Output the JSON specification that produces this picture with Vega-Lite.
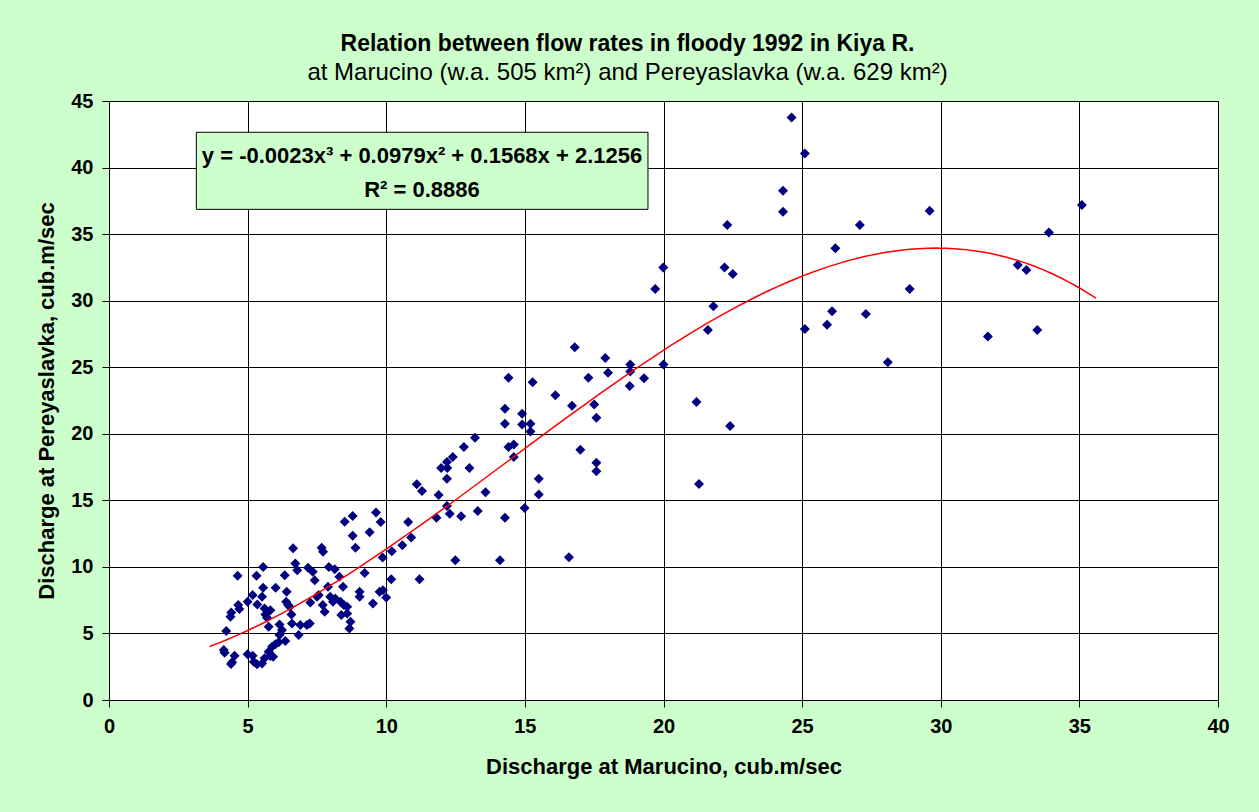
{
  "$schema": "https://vega.github.io/schema/vega-lite/v6.json",
  "autosize": {"type": "none"},
  "padding": {"left": 109, "top": 101, "right": 41, "bottom": 112},
  "width": 1109,
  "height": 599,
  "background": "#CCFFCC",
  "title": {
    "text": "Relation between flow rates in floody 1992 in Kiya R.",
    "subtitle": "at Marucino (w.a. 505 km²) and Pereyaslavka (w.a. 629 km²)",
    "anchor": "middle",
    "dx": -36,
    "offset": 6,
    "font": "Liberation Sans",
    "fontSize": 23,
    "fontWeight": "bold",
    "color": "#000000",
    "subtitleFont": "Liberation Sans",
    "subtitleFontSize": 24,
    "subtitleColor": "#000000",
    "subtitlePadding": 5
  },
  "datasets": {
    "points": [
      {"x": 24.62, "y": 43.76}, {"x": 25.1, "y": 41.06}, {"x": 24.31, "y": 38.26}, {"x": 24.31, "y": 36.68},
      {"x": 22.3, "y": 35.68}, {"x": 27.08, "y": 35.68}, {"x": 29.6, "y": 36.76}, {"x": 35.09, "y": 37.18},
      {"x": 33.9, "y": 35.13}, {"x": 26.2, "y": 33.93}, {"x": 19.99, "y": 32.5}, {"x": 22.2, "y": 32.5},
      {"x": 22.5, "y": 32.0}, {"x": 32.78, "y": 32.68}, {"x": 33.09, "y": 32.3}, {"x": 19.7, "y": 30.88},
      {"x": 28.88, "y": 30.88}, {"x": 21.8, "y": 29.58}, {"x": 26.08, "y": 29.2}, {"x": 27.3, "y": 29.0},
      {"x": 25.9, "y": 28.2}, {"x": 25.1, "y": 27.87}, {"x": 21.6, "y": 27.8}, {"x": 33.48, "y": 27.8},
      {"x": 31.7, "y": 27.3}, {"x": 28.09, "y": 25.38}, {"x": 20.0, "y": 25.2}, {"x": 21.19, "y": 22.38},
      {"x": 22.4, "y": 20.58}, {"x": 21.28, "y": 16.23},
      {"x": 17.9, "y": 25.7}, {"x": 18.0, "y": 24.58}, {"x": 18.8, "y": 25.2}, {"x": 18.8, "y": 24.68},
      {"x": 18.78, "y": 23.58}, {"x": 19.3, "y": 24.18}, {"x": 16.8, "y": 26.5}, {"x": 17.29, "y": 24.2},
      {"x": 16.1, "y": 22.9}, {"x": 16.7, "y": 22.1}, {"x": 17.5, "y": 22.2}, {"x": 17.58, "y": 21.2},
      {"x": 17.0, "y": 18.8}, {"x": 17.58, "y": 17.83}, {"x": 17.58, "y": 17.18}, {"x": 15.5, "y": 16.63},
      {"x": 15.5, "y": 15.43}, {"x": 16.59, "y": 10.73},
      {"x": 14.41, "y": 24.2}, {"x": 15.28, "y": 23.88}, {"x": 14.28, "y": 21.88}, {"x": 14.28, "y": 20.75},
      {"x": 14.9, "y": 21.5}, {"x": 14.9, "y": 20.7}, {"x": 15.2, "y": 20.75}, {"x": 15.2, "y": 20.18},
      {"x": 13.2, "y": 19.7}, {"x": 12.8, "y": 19.0}, {"x": 12.4, "y": 18.25}, {"x": 12.19, "y": 17.88},
      {"x": 11.98, "y": 17.43}, {"x": 12.2, "y": 17.43}, {"x": 13.0, "y": 17.43}, {"x": 12.19, "y": 16.63},
      {"x": 14.41, "y": 19.0}, {"x": 14.6, "y": 19.2}, {"x": 14.6, "y": 18.25}, {"x": 11.1, "y": 16.2},
      {"x": 11.29, "y": 15.7}, {"x": 11.89, "y": 15.4}, {"x": 13.58, "y": 15.6}, {"x": 12.19, "y": 14.58},
      {"x": 12.29, "y": 14.0}, {"x": 11.81, "y": 13.7}, {"x": 12.7, "y": 13.8}, {"x": 13.3, "y": 14.2},
      {"x": 14.28, "y": 13.7}, {"x": 14.99, "y": 14.43}, {"x": 10.79, "y": 13.38}, {"x": 10.9, "y": 12.2},
      {"x": 10.58, "y": 11.63}, {"x": 10.2, "y": 11.18}, {"x": 9.87, "y": 10.7}, {"x": 12.49, "y": 10.5},
      {"x": 14.1, "y": 10.5}, {"x": 9.22, "y": 9.55}, {"x": 10.18, "y": 9.08}, {"x": 11.2, "y": 9.08},
      {"x": 8.79, "y": 13.83}, {"x": 9.63, "y": 14.08}, {"x": 9.8, "y": 13.38}, {"x": 9.4, "y": 12.6},
      {"x": 8.79, "y": 12.33}, {"x": 8.89, "y": 11.43}, {"x": 8.5, "y": 13.4},
      {"x": 4.64, "y": 9.33}, {"x": 5.32, "y": 9.33}, {"x": 5.56, "y": 10.0}, {"x": 6.34, "y": 9.38},
      {"x": 6.64, "y": 11.4}, {"x": 6.72, "y": 10.25}, {"x": 6.79, "y": 9.75}, {"x": 7.18, "y": 9.93},
      {"x": 7.35, "y": 9.63}, {"x": 7.67, "y": 11.43}, {"x": 7.72, "y": 11.13}, {"x": 7.93, "y": 10.0},
      {"x": 8.14, "y": 9.83}, {"x": 8.31, "y": 9.25}, {"x": 8.44, "y": 8.5}, {"x": 7.42, "y": 9.0},
      {"x": 7.9, "y": 8.5}, {"x": 6.01, "y": 8.43}, {"x": 5.56, "y": 8.43}, {"x": 6.41, "y": 8.13},
      {"x": 5.18, "y": 7.88}, {"x": 5.52, "y": 7.75}, {"x": 5.35, "y": 7.18}, {"x": 5.0, "y": 7.38},
      {"x": 4.66, "y": 7.13}, {"x": 4.7, "y": 6.83}, {"x": 4.41, "y": 6.58}, {"x": 4.38, "y": 6.25},
      {"x": 4.23, "y": 5.18}, {"x": 4.14, "y": 3.75}, {"x": 4.17, "y": 3.55}, {"x": 4.53, "y": 3.33},
      {"x": 4.44, "y": 2.83}, {"x": 4.4, "y": 2.7}, {"x": 5.0, "y": 3.43}, {"x": 5.18, "y": 3.33},
      {"x": 5.22, "y": 2.88}, {"x": 5.34, "y": 2.68}, {"x": 5.52, "y": 2.75}, {"x": 5.61, "y": 3.13},
      {"x": 5.76, "y": 3.63}, {"x": 5.82, "y": 3.3}, {"x": 5.92, "y": 3.25}, {"x": 5.88, "y": 4.0},
      {"x": 6.0, "y": 4.18}, {"x": 6.12, "y": 4.33}, {"x": 6.36, "y": 4.43}, {"x": 6.15, "y": 4.88},
      {"x": 6.24, "y": 5.25}, {"x": 6.15, "y": 5.68}, {"x": 5.76, "y": 5.5}, {"x": 5.7, "y": 6.18},
      {"x": 5.61, "y": 6.88}, {"x": 5.64, "y": 6.43}, {"x": 5.82, "y": 6.75}, {"x": 6.46, "y": 7.13},
      {"x": 6.39, "y": 7.38}, {"x": 6.52, "y": 7.0}, {"x": 6.6, "y": 5.75}, {"x": 6.84, "y": 4.88},
      {"x": 6.9, "y": 5.63}, {"x": 7.14, "y": 5.63}, {"x": 7.24, "y": 5.75}, {"x": 6.58, "y": 6.43},
      {"x": 7.26, "y": 7.33}, {"x": 7.5, "y": 7.75}, {"x": 7.71, "y": 7.13}, {"x": 7.78, "y": 6.63},
      {"x": 7.98, "y": 7.75}, {"x": 8.16, "y": 7.63}, {"x": 8.35, "y": 7.38}, {"x": 8.47, "y": 7.13},
      {"x": 8.59, "y": 7.0}, {"x": 8.38, "y": 6.38}, {"x": 8.59, "y": 6.5}, {"x": 8.71, "y": 5.88},
      {"x": 8.67, "y": 5.38}, {"x": 9.04, "y": 8.13}, {"x": 9.04, "y": 7.75}, {"x": 9.76, "y": 8.13},
      {"x": 9.88, "y": 8.25}, {"x": 10.0, "y": 7.7}, {"x": 9.52, "y": 7.25}, {"x": 7.56, "y": 7.88},
      {"x": 8.08, "y": 7.38}
    ],
    "box": [{"x1": 3.15, "x2": 19.44, "y1": 36.86, "y2": 42.65}],
    "eq": [
      {"x": 11.29, "y": 40.9, "label": "y = -0.0023x³ + 0.0979x² + 0.1568x + 2.1256"},
      {"x": 11.29, "y": 38.35, "label": "R² = 0.8886"}
    ]
  },
  "layer": [
    {
      "data": {"name": "box"},
      "mark": {"type": "rect", "fill": "#CCFFCC", "stroke": "#000000", "strokeWidth": 1},
      "encoding": {
        "x": {"field": "x1", "type": "quantitative", "scale": {"domain": [0, 40], "nice": false, "zero": true},
              "axis": {"title": "Discharge at Marucino, cub.m/sec", "values": [0, 5, 10, 15, 20, 25, 30, 35, 40]}},
        "x2": {"field": "x2"},
        "y": {"field": "y1", "type": "quantitative", "scale": {"domain": [0, 45], "nice": false, "zero": true},
              "axis": {"title": "Discharge at Pereyaslavka, cub.m/sec", "values": [0, 5, 10, 15, 20, 25, 30, 35, 40, 45]}},
        "y2": {"field": "y2"}
      }
    },
    {
      "data": {"name": "eq"},
      "mark": {"type": "text", "font": "Liberation Sans", "fontWeight": "bold", "fontSize": 22, "align": "center", "baseline": "middle", "color": "#000000"},
      "encoding": {
        "x": {"field": "x", "type": "quantitative"},
        "y": {"field": "y", "type": "quantitative"},
        "text": {"field": "label"}
      }
    },
    {
      "data": {"name": "points"},
      "mark": {"type": "point", "shape": "diamond", "filled": true, "size": 100, "color": "#000080", "opacity": 1},
      "encoding": {
        "x": {"field": "x", "type": "quantitative"},
        "y": {"field": "y", "type": "quantitative"}
      }
    },
    {
      "data": {"name": "points"},
      "transform": [{"regression": "y", "on": "x", "method": "poly", "order": 3, "extent": [3.63, 35.6]}],
      "mark": {"type": "line", "color": "#FF0000", "strokeWidth": 1.5},
      "encoding": {
        "x": {"field": "x", "type": "quantitative"},
        "y": {"field": "y", "type": "quantitative"}
      }
    }
  ],
  "config": {
    "view": {"fill": "#FFFFFF", "stroke": "#000000", "strokeWidth": 1},
    "axis": {
      "grid": true,
      "gridColor": "#000000",
      "gridOpacity": 1,
      "gridWidth": 1,
      "domainColor": "#000000",
      "domainWidth": 1,
      "tickColor": "#000000",
      "tickSize": 7,
      "labelFont": "Liberation Sans",
      "labelFontSize": 20,
      "labelFontWeight": "bold",
      "labelColor": "#000000",
      "titleFont": "Liberation Sans",
      "titleFontSize": 22,
      "titleFontWeight": "bold",
      "titleColor": "#000000"
    },
    "axisX": {"labelPadding": 9, "titlePadding": 20, "labelFlush": false},
    "axisY": {"labelPadding": 9, "titlePadding": 12, "labelFlush": false}
  }
}
